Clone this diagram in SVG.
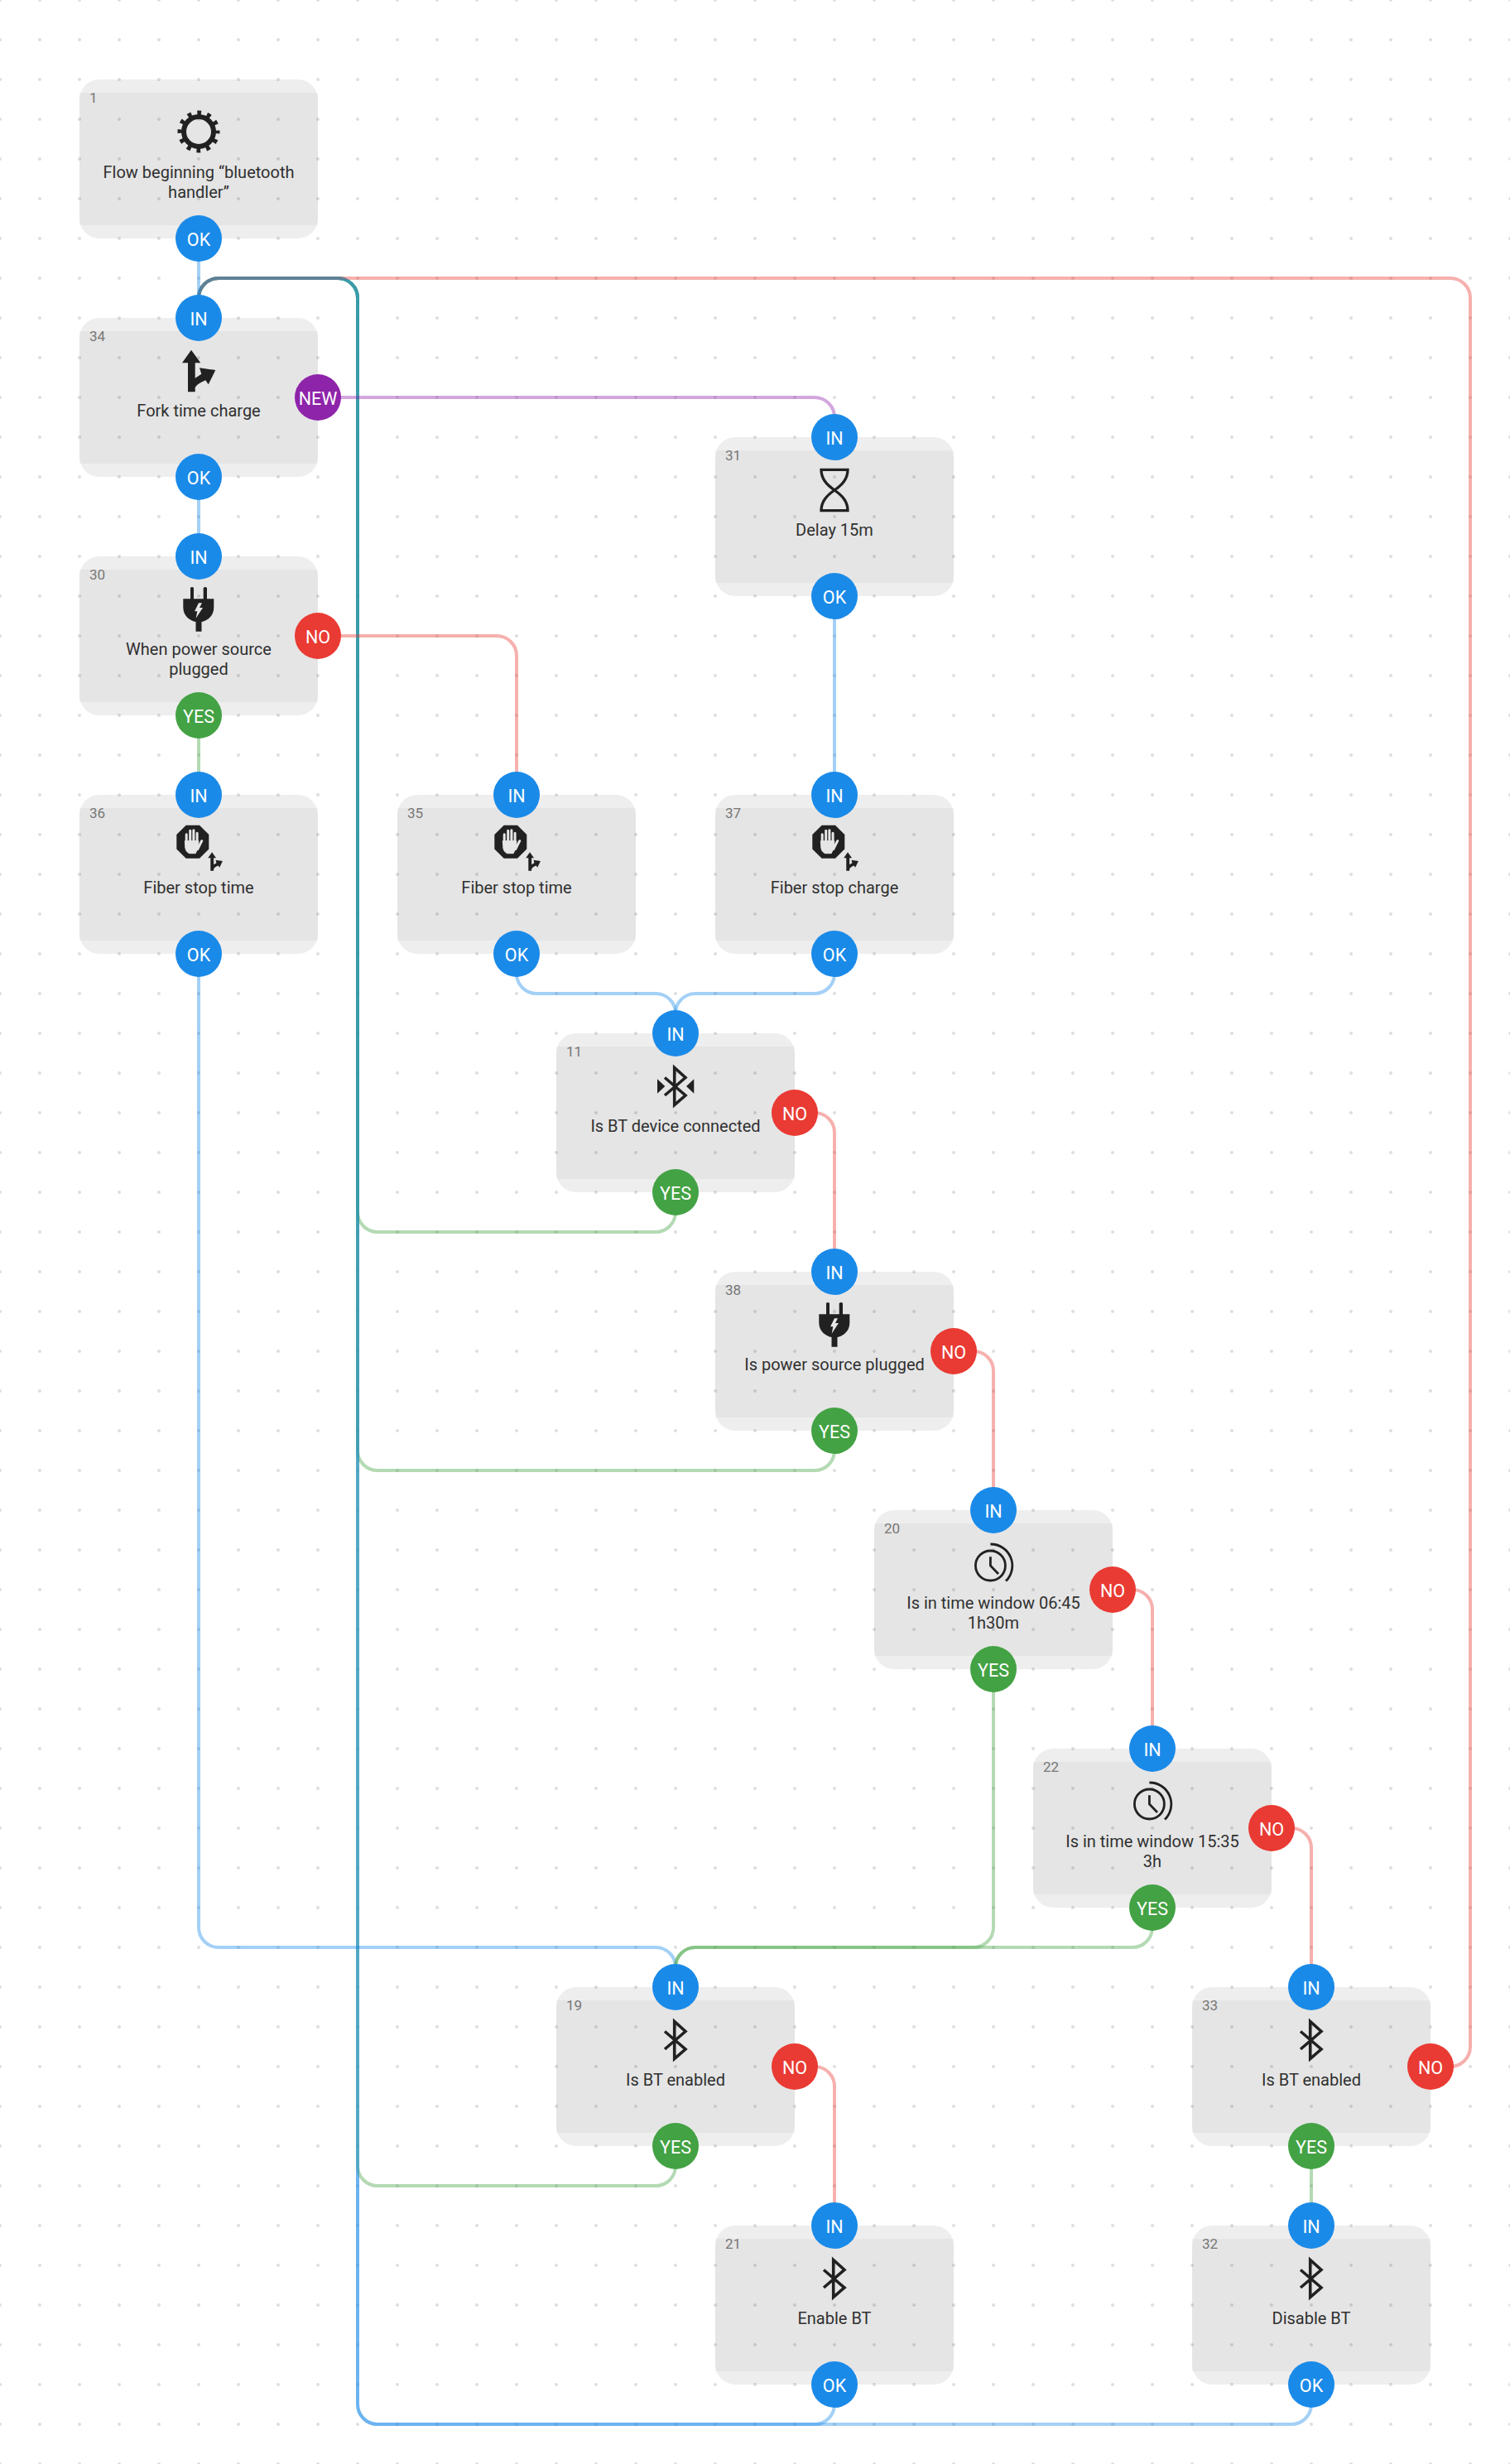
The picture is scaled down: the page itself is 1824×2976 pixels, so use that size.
<svg xmlns="http://www.w3.org/2000/svg" xmlns:xlink="http://www.w3.org/1999/xlink" width="1824" height="2976" viewBox="0 0 1824 2976">
<style>
text{font-family:Roboto,"Liberation Sans",sans-serif}
.o{fill:#000;fill-opacity:.067}
.i{fill:#000;fill-opacity:.034}
.l{font-size:20px;fill:#303030;text-anchor:middle}
.n{font-size:17px;fill:#777}
.p{font-size:21.5px;fill:#fff;text-anchor:middle}
.pb{fill:#1a8ae8}.pr{fill:#e93a33}.pg{fill:#43a244}.pv{fill:#8e24aa}
.c{fill:none;stroke-width:4;stroke-opacity:.4}
.cb{stroke:#1a8ae8}.cr{stroke:#e93a33}.cg{stroke:#43a244}.cv{stroke:#8e24aa}
.k{fill:#212121}
.s{fill:none;stroke:#212121}
</style>
<defs>
<pattern id="dots" width="48" height="48" patternUnits="userSpaceOnUse" x="-24" y="-24"><circle cx="24" cy="24" r="2" fill="#dedede"/></pattern>
<g id="box"><rect class="o" width="288" height="192" rx="24"/><rect class="i" y="16" width="288" height="160"/></g>
<g id="gear"><circle class="s" r="18" stroke-width="6"/><circle class="s" r="22.5" stroke-width="6" stroke-dasharray="4.78 7" stroke-dashoffset="2.39"/></g>
<path id="fork" d="M-9,-25.3L2.3,-9.7H-4.3V8.7L3.3,3.7L1,-3.7L20.3,-1L11.7,16.3L8.3,11.3C2,14 -2,16 -4.3,20.3V25.3H-13V-9.7H-20Z"/>
<g id="stop">
<path class="k" d="M-15.3,-27.3H1L12.3,-16V1.4L1,12.7H-15.3L-26.7,1.4V-16Z"/>
<g transform="translate(-7.3,-7.3)" fill="#e6e6e6" stroke="#e6e6e6" stroke-linecap="round" stroke-linejoin="round">
<path fill="none" stroke-width="3" d="M-7.5,1V-9M-3,0V-13.5M1.2,0V-14M5.4,1V-10.5M6,9L11,-1"/>
<path stroke-width="1" d="M-9,-1H7V6L3.5,14H-4C-8,12 -9,9 -9,5Z"/>
</g>
<use href="#fork" class="k" transform="translate(20,16.5) scale(.44)"/>
</g>
<path id="glass" class="s" stroke-width="3.3" d="M-16,-24.7H16C16,-14 10,-7 0,0C-10,7 -16,14 -16,24.7H16C16,14 10,7 0,0C-10,-7 -16,-14 -16,-24.7Z"/>
<g id="plug"><path class="k" d="M-10,-26Q-8,-28 -6,-26V-12.7H5.7V-26Q8,-28 10,-26V-12.7H18.3V-2C18.3,8 10,14 3.5,15V26.7H-3.5V15C-10,14 -18.7,8 -18.7,-2V-12.7H-10Z"/><path fill="#e6e6e6" d="M0,-7.7L-5,2.3H-1.7L-3.3,10.7L5,-2H1L4,-7.7Z"/></g>
<path id="bt" class="s" stroke-width="3.6" d="M-13,-10.5L12,11L-1.3,22.5V-22.5L12,-10.5L-13,11"/>
<g id="btc"><use href="#bt"/><path class="k" d="M-22,-8.7V8.7L-12.7,0ZM22.3,-8.7V8.7L13,0Z"/></g>
<g id="clock" transform="translate(-3.6,3)"><circle class="s" r="18" stroke-width="2.8"/><path class="s" stroke-width="2.8" d="M0,-26A26,26 0 0 1 18.6,18.6M0,-10.7V0L9.6,10"/></g>
</defs>
<rect width="1824" height="2976" fill="#fff"/>
<rect width="1824" height="2976" fill="url(#dots)"/>
<g id="connectors">
<path class="c cg" d="M816,1440V1464A24,24 0 0 1 792,1488H456A24,24 0 0 1 432,1464V360A24,24 0 0 0 408,336H264A24,24 0 0 0 240,360V384"/>
<path class="c cg" d="M1008,1728V1752A24,24 0 0 1 984,1776H456A24,24 0 0 1 432,1752V360A24,24 0 0 0 408,336H264A24,24 0 0 0 240,360V384"/>
<path class="c cb" d="M1008,2880V2904A24,24 0 0 1 984,2928H456A24,24 0 0 1 432,2904V360A24,24 0 0 0 408,336H264A24,24 0 0 0 240,360V384"/>
<path class="c cg" d="M816,2592V2616A24,24 0 0 1 792,2640H456A24,24 0 0 1 432,2616V360A24,24 0 0 0 408,336H264A24,24 0 0 0 240,360V384"/>
<path class="c cr" d="M1728,2496H1752A24,24 0 0 0 1776,2472V360A24,24 0 0 0 1752,336H264A24,24 0 0 0 240,360V384"/>
<path class="c cb" d="M1584,2880V2904A24,24 0 0 1 1560,2928H456A24,24 0 0 1 432,2904V360A24,24 0 0 0 408,336H264A24,24 0 0 0 240,360V384"/>
<path class="c cb" d="M240,288V384"/>
<path class="c cb" d="M240,576V672"/>
<path class="c cg" d="M240,864V960"/>
<path class="c cv" d="M384,480H984A24,24 0 0 1 1008,504V528"/>
<path class="c cr" d="M384,768H600A24,24 0 0 1 624,792V960"/>
<path class="c cb" d="M1008,720V960"/>
<path class="c cb" d="M624,1152V1176A24,24 0 0 0 648,1200H792A24,24 0 0 1 816,1224V1248"/>
<path class="c cb" d="M1008,1152V1176A24,24 0 0 1 984,1200H840A24,24 0 0 0 816,1224V1248"/>
<path class="c cb" d="M240,1152V2328A24,24 0 0 0 264,2352H792A24,24 0 0 1 816,2376V2400"/>
<path class="c cr" d="M960,1344H984A24,24 0 0 1 1008,1368V1536"/>
<path class="c cr" d="M1152,1632H1176A24,24 0 0 1 1200,1656V1824"/>
<path class="c cr" d="M1344,1920H1368A24,24 0 0 1 1392,1944V2112"/>
<path class="c cr" d="M1536,2208H1560A24,24 0 0 1 1584,2232V2400"/>
<path class="c cg" d="M1200,2016V2328A24,24 0 0 1 1176,2352H840A24,24 0 0 0 816,2376V2400"/>
<path class="c cg" d="M1392,2304V2328A24,24 0 0 1 1368,2352H840A24,24 0 0 0 816,2376V2400"/>
<path class="c cr" d="M960,2496H984A24,24 0 0 1 1008,2520V2688"/>
<path class="c cg" d="M1584,2592V2688"/>
</g>
<g id="node-1" transform="translate(96,96)"><use href="#box"/><text class="n" x="12" y="28">1</text><use href="#gear" x="144" y="63"/><text class="l" x="144" y="119">Flow beginning “bluetooth</text><text class="l" x="144" y="143">handler”</text><circle class="pb" cx="144" cy="192" r="28"/><text class="p" x="144" y="200.5">OK</text></g>
<g id="node-34" transform="translate(96,384)"><use href="#box"/><text class="n" x="12" y="28">34</text><use href="#fork" class="k" x="144" y="64"/><text class="l" x="144" y="119">Fork time charge</text><circle class="pb" cx="144" cy="0" r="28"/><text class="p" x="144" y="8.5">IN</text><circle class="pb" cx="144" cy="192" r="28"/><text class="p" x="144" y="200.5">OK</text><circle class="pv" cx="288" cy="96" r="28"/><text class="p" x="288" y="104.5">NEW</text></g>
<g id="node-30" transform="translate(96,672)"><use href="#box"/><text class="n" x="12" y="28">30</text><use href="#plug" x="144" y="64"/><text class="l" x="144" y="119">When power source</text><text class="l" x="144" y="143">plugged</text><circle class="pb" cx="144" cy="0" r="28"/><text class="p" x="144" y="8.5">IN</text><circle class="pg" cx="144" cy="192" r="28"/><text class="p" x="144" y="200.5">YES</text><circle class="pr" cx="288" cy="96" r="28"/><text class="p" x="288" y="104.5">NO</text></g>
<g id="node-36" transform="translate(96,960)"><use href="#box"/><text class="n" x="12" y="28">36</text><use href="#stop" x="144" y="64"/><text class="l" x="144" y="119">Fiber stop time</text><circle class="pb" cx="144" cy="0" r="28"/><text class="p" x="144" y="8.5">IN</text><circle class="pb" cx="144" cy="192" r="28"/><text class="p" x="144" y="200.5">OK</text></g>
<g id="node-35" transform="translate(480,960)"><use href="#box"/><text class="n" x="12" y="28">35</text><use href="#stop" x="144" y="64"/><text class="l" x="144" y="119">Fiber stop time</text><circle class="pb" cx="144" cy="0" r="28"/><text class="p" x="144" y="8.5">IN</text><circle class="pb" cx="144" cy="192" r="28"/><text class="p" x="144" y="200.5">OK</text></g>
<g id="node-37" transform="translate(864,960)"><use href="#box"/><text class="n" x="12" y="28">37</text><use href="#stop" x="144" y="64"/><text class="l" x="144" y="119">Fiber stop charge</text><circle class="pb" cx="144" cy="0" r="28"/><text class="p" x="144" y="8.5">IN</text><circle class="pb" cx="144" cy="192" r="28"/><text class="p" x="144" y="200.5">OK</text></g>
<g id="node-31" transform="translate(864,528)"><use href="#box"/><text class="n" x="12" y="28">31</text><use href="#glass" x="144" y="64"/><text class="l" x="144" y="119">Delay 15m</text><circle class="pb" cx="144" cy="0" r="28"/><text class="p" x="144" y="8.5">IN</text><circle class="pb" cx="144" cy="192" r="28"/><text class="p" x="144" y="200.5">OK</text></g>
<g id="node-11" transform="translate(672,1248)"><use href="#box"/><text class="n" x="12" y="28">11</text><use href="#btc" x="144" y="64"/><text class="l" x="144" y="119">Is BT device connected</text><circle class="pb" cx="144" cy="0" r="28"/><text class="p" x="144" y="8.5">IN</text><circle class="pg" cx="144" cy="192" r="28"/><text class="p" x="144" y="200.5">YES</text><circle class="pr" cx="288" cy="96" r="28"/><text class="p" x="288" y="104.5">NO</text></g>
<g id="node-38" transform="translate(864,1536)"><use href="#box"/><text class="n" x="12" y="28">38</text><use href="#plug" x="144" y="64"/><text class="l" x="144" y="119">Is power source plugged</text><circle class="pb" cx="144" cy="0" r="28"/><text class="p" x="144" y="8.5">IN</text><circle class="pg" cx="144" cy="192" r="28"/><text class="p" x="144" y="200.5">YES</text><circle class="pr" cx="288" cy="96" r="28"/><text class="p" x="288" y="104.5">NO</text></g>
<g id="node-20" transform="translate(1056,1824)"><use href="#box"/><text class="n" x="12" y="28">20</text><use href="#clock" x="144" y="64"/><text class="l" x="144" y="119">Is in time window 06:45</text><text class="l" x="144" y="143">1h30m</text><circle class="pb" cx="144" cy="0" r="28"/><text class="p" x="144" y="8.5">IN</text><circle class="pg" cx="144" cy="192" r="28"/><text class="p" x="144" y="200.5">YES</text><circle class="pr" cx="288" cy="96" r="28"/><text class="p" x="288" y="104.5">NO</text></g>
<g id="node-22" transform="translate(1248,2112)"><use href="#box"/><text class="n" x="12" y="28">22</text><use href="#clock" x="144" y="64"/><text class="l" x="144" y="119">Is in time window 15:35</text><text class="l" x="144" y="143">3h</text><circle class="pb" cx="144" cy="0" r="28"/><text class="p" x="144" y="8.5">IN</text><circle class="pg" cx="144" cy="192" r="28"/><text class="p" x="144" y="200.5">YES</text><circle class="pr" cx="288" cy="96" r="28"/><text class="p" x="288" y="104.5">NO</text></g>
<g id="node-19" transform="translate(672,2400)"><use href="#box"/><text class="n" x="12" y="28">19</text><use href="#bt" x="144" y="64"/><text class="l" x="144" y="119">Is BT enabled</text><circle class="pb" cx="144" cy="0" r="28"/><text class="p" x="144" y="8.5">IN</text><circle class="pg" cx="144" cy="192" r="28"/><text class="p" x="144" y="200.5">YES</text><circle class="pr" cx="288" cy="96" r="28"/><text class="p" x="288" y="104.5">NO</text></g>
<g id="node-33" transform="translate(1440,2400)"><use href="#box"/><text class="n" x="12" y="28">33</text><use href="#bt" x="144" y="64"/><text class="l" x="144" y="119">Is BT enabled</text><circle class="pb" cx="144" cy="0" r="28"/><text class="p" x="144" y="8.5">IN</text><circle class="pg" cx="144" cy="192" r="28"/><text class="p" x="144" y="200.5">YES</text><circle class="pr" cx="288" cy="96" r="28"/><text class="p" x="288" y="104.5">NO</text></g>
<g id="node-21" transform="translate(864,2688)"><use href="#box"/><text class="n" x="12" y="28">21</text><use href="#bt" x="144" y="64"/><text class="l" x="144" y="119">Enable BT</text><circle class="pb" cx="144" cy="0" r="28"/><text class="p" x="144" y="8.5">IN</text><circle class="pb" cx="144" cy="192" r="28"/><text class="p" x="144" y="200.5">OK</text></g>
<g id="node-32" transform="translate(1440,2688)"><use href="#box"/><text class="n" x="12" y="28">32</text><use href="#bt" x="144" y="64"/><text class="l" x="144" y="119">Disable BT</text><circle class="pb" cx="144" cy="0" r="28"/><text class="p" x="144" y="8.5">IN</text><circle class="pb" cx="144" cy="192" r="28"/><text class="p" x="144" y="200.5">OK</text></g>
</svg>
